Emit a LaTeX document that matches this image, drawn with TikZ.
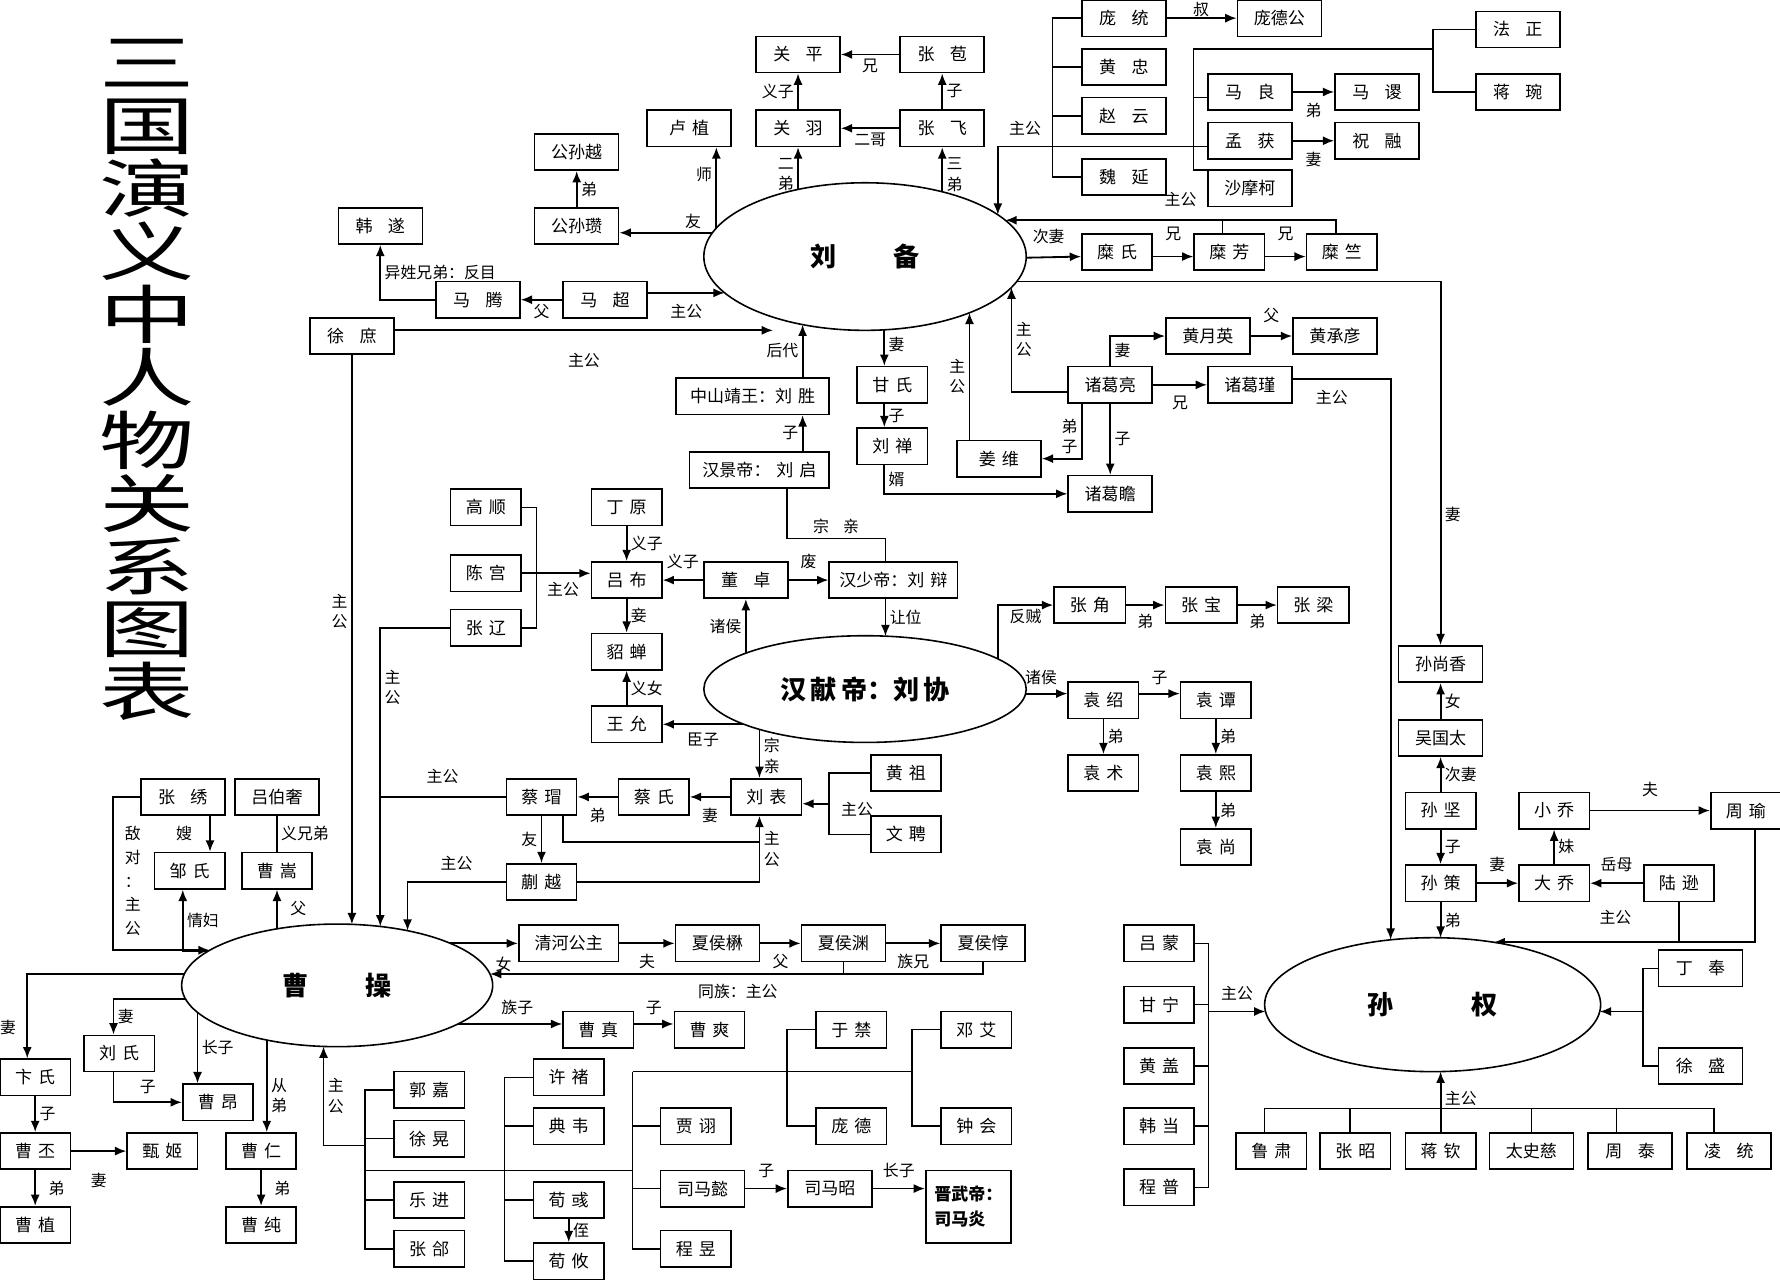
\documentclass[tikz,border=0pt]{standalone}
\usepackage{fontspec}
\setmainfont{Noto Sans CJK SC}
\usetikzlibrary{shapes.geometric,arrows.meta,calc}
\pgfdeclarelayer{bg}\pgfsetlayers{bg,main}
\newcommand\wsp{\hspace{0.9em}}
\newcommand\nsp{\hspace{0.35em}}
\begin{document}
\begin{tikzpicture}[x=0.5pt,y=-0.5pt,
 box/.style={draw,line width=0.7pt,minimum width=37pt,minimum height=16pt,inner sep=1pt,font=\fontsize{7.5}{8}\selectfont},
 w/.style={minimum width=#1*0.5pt},
 ell/.style={draw,ellipse,line width=0.7pt,fill=white,inner sep=0pt,font=\bfseries\fontsize{11.5}{12}\selectfont},
 a/.style={line width=0.8pt,-{Latex[length=5pt,width=4pt]}},
 l/.style={line width=0.7pt},
 lab/.style={font=\fontsize{7}{9}\selectfont,inner sep=1.5pt,align=center}]
\useasboundingbox (0,0) rectangle (1568,1130);
\node[align=center,inner sep=0pt] (title) at (130,335) {\scalebox{1.5}[1]{\parbox{28pt}{\centering\fontsize{28}{27.7}\selectfont 三\\国\\演\\义\\中\\人\\物\\关\\系\\图\\表}}};
% ellipses
\node[ell,minimum width=142pt,minimum height=65pt] (lb) at (762,226) {刘\hspace{2.2em}备};
\node[ell,minimum width=142pt,minimum height=47pt] (hx) at (762,607) {汉\,献\,帝：刘\,协};
\node[ell,minimum width=137pt,minimum height=54pt] (cc) at (297,868) {曹\hspace{2.2em}操};
\node[ell,minimum width=148pt,minimum height=59pt] (sq) at (1262,885) {孙\hspace{3em}权};
% boxes
\node[box] (guanping) at (703,48) {关\wsp{}平};
\node[box] (zhangbao) at (830,48) {张\wsp{}苞};
\node[box] (luzhi) at (607,113) {卢\nsp{}植};
\node[box] (guanyu) at (703,113) {关\wsp{}羽};
\node[box] (zhangfei) at (830,113) {张\wsp{}飞};
\node[box] (gsy) at (508,134) {公孙越};
\node[box] (gsz) at (508,199) {公孙瓒};
\node[box] (hansui) at (335,199) {韩\wsp{}遂};
\node[box] (mateng) at (421,264) {马\wsp{}腾};
\node[box] (machao) at (533,264) {马\wsp{}超};
\node[box] (xushu) at (310,296) {徐\wsp{}庶};
\node[box] (pangtong) at (990,16) {庞\wsp{}统};
\node[box] (pangdegong) at (1127,16) {庞德公};
\node[box] (huangzhong) at (990,59) {黄\wsp{}忠};
\node[box] (zhaoyun) at (990,102) {赵\wsp{}云};
\node[box] (weiyan) at (990,156) {魏\wsp{}延};
\node[box] (mal) at (1101,81) {马\wsp{}良};
\node[box] (masu) at (1213,81) {马\wsp{}谡};
\node[box] (menghuo) at (1101,124) {孟\wsp{}获};
\node[box] (zhurong) at (1213,124) {祝\wsp{}融};
\node[box] (shamoke) at (1101,166) {沙摩柯};
\node[box] (fazheng) at (1337,26) {法\wsp{}正};
\node[box] (jiangwan) at (1337,81) {蒋\wsp{}琬};
\node[box,w=62] (mishi) at (984,222) {糜\nsp{}氏};
\node[box,w=62] (mifang) at (1083,222) {糜\nsp{}芳};
\node[box,w=62] (mizhu) at (1182,222) {糜\nsp{}竺};
\node[box] (hyy) at (1064,296) {黄月英};
\node[box] (hcy) at (1176,296) {黄承彦};
\node[box] (zgl) at (978,339) {诸葛亮};
\node[box] (zgj) at (1101,339) {诸葛瑾};
\node[box] (jiangwei) at (880,404) {姜\nsp{}维};
\node[box] (zgzhan) at (978,435) {诸葛瞻};
\node[box,w=62] (ganshi) at (786,339) {甘\nsp{}氏};
\node[box,w=62] (liushan) at (786,393) {刘\nsp{}禅};
\node[box,w=135] (zsjw) at (663,349) {中山靖王：刘\nsp{}胜};
\node[box,w=123] (hanjing) at (669,414) {汉景帝：\nsp{}刘\nsp{}启};
\node[box,w=62] (gaoshun) at (428,447) {高\nsp{}顺};
\node[box,w=62] (dingyuan) at (552,447) {丁\nsp{}原};
\node[box,w=62] (chengong) at (428,505) {陈\nsp{}宫};
\node[box,w=62] (lvbu) at (552,511) {吕\nsp{}布};
\node[box] (dongzhuo) at (657,511) {董\wsp{}卓};
\node[box,w=113] (hanshao) at (787,511) {汉少帝：刘\nsp{}辩};
\node[box,w=62] (zhangliao) at (428,553) {张\nsp{}辽};
\node[box,w=62] (diaochan) at (552,574) {貂\nsp{}蝉};
\node[box,w=62] (wangyun) at (552,638) {王\nsp{}允};
\node[box,w=63] (zhangjiao) at (960,533) {张\nsp{}角};
\node[box,w=63] (zhangbao2) at (1058,533) {张\nsp{}宝};
\node[box,w=63] (zhangliang) at (1157,533) {张\nsp{}梁};
\node[box,w=62] (yuanshao) at (972,617) {袁\nsp{}绍};
\node[box,w=62] (yuantan) at (1071,617) {袁\nsp{}谭};
\node[box,w=62] (yuanshu) at (972,681) {袁\nsp{}术};
\node[box,w=62] (yuanxi) at (1071,681) {袁\nsp{}熙};
\node[box,w=62] (yuanshang) at (1071,746) {袁\nsp{}尚};
\node[box,w=62] (huangzu) at (798,681) {黄\nsp{}祖};
\node[box,w=62] (wenpin) at (798,735) {文\nsp{}聘};
\node[box,w=62] (liubiao) at (675,702) {刘\nsp{}表};
\node[box,w=62] (caishi) at (576,702) {蔡\nsp{}氏};
\node[box,w=62] (caimao) at (477,702) {蔡\nsp{}瑁};
\node[box,w=62] (kuaiyue) at (477,777) {蒯\nsp{}越};
\node[box] (zhangxiu) at (161,702) {张\wsp{}绣};
\node[box] (lvboshe) at (244,702) {吕伯奢};
\node[box,w=62] (zoushi) at (167,767) {邹\nsp{}氏};
\node[box,w=62] (caosong) at (244,767) {曹\nsp{}嵩};
\node[box,w=88] (qinghe) at (501,831) {清河公主};
\node[box] (xhmao) at (632,831) {夏侯楙};
\node[box] (xhyuan) at (743,831) {夏侯渊};
\node[box] (xhdun) at (866,831) {夏侯惇};
\node[box,w=62] (caozhen) at (527,907) {曹\nsp{}真};
\node[box,w=62] (caoshuang) at (625,907) {曹\nsp{}爽};
\node[box,w=62] (bianshi) at (31,949) {卞\nsp{}氏};
\node[box,w=62] (liushi) at (105,928) {刘\nsp{}氏};
\node[box,w=62] (caoang) at (192,971) {曹\nsp{}昂};
\node[box,w=62] (caopi) at (31,1014) {曹\nsp{}丕};
\node[box,w=62] (zhenji) at (143,1014) {甄\nsp{}姬};
\node[box,w=62] (caoren) at (230,1014) {曹\nsp{}仁};
\node[box,w=62] (caozhi) at (31,1079) {曹\nsp{}植};
\node[box,w=62] (caochun) at (230,1079) {曹\nsp{}纯};
\node[box,w=62] (guojia) at (378,960) {郭\nsp{}嘉};
\node[box,w=62] (xuhuang) at (378,1003) {徐\nsp{}晃};
\node[box,w=62] (yuejin) at (378,1057) {乐\nsp{}进};
\node[box,w=62] (zhanghe) at (378,1100) {张\nsp{}郃};
\node[box,w=62] (xuchu) at (501,949) {许\nsp{}褚};
\node[box,w=62] (dianwei) at (501,992) {典\nsp{}韦};
\node[box,w=62] (xunyu) at (501,1057) {荀\nsp{}彧};
\node[box,w=62] (xunyou) at (501,1111) {荀\nsp{}攸};
\node[box,w=62] (jiaxu) at (613,992) {贾\nsp{}诩};
\node[box] (simayi) at (619,1047) {司马懿};
\node[box,w=62] (chengyu) at (613,1100) {程\nsp{}昱};
\node[box] (simazhao) at (731,1047) {司马昭};
\node[box,w=75,minimum height=32pt,align=left,font=\bfseries\fontsize{7.5}{11}\selectfont] (jinwu) at (853,1063) {晋武帝：\\司马炎};
\node[box,w=62] (yujin) at (750,907) {于\nsp{}禁};
\node[box,w=62] (pangde) at (750,992) {庞\nsp{}德};
\node[box,w=62] (dengai) at (860,907) {邓\nsp{}艾};
\node[box,w=62] (zhonghui) at (860,992) {钟\nsp{}会};
\node[box] (sunshx) at (1269,585) {孙尚香};
\node[box] (wuguotai) at (1269,650) {吴国太};
\node[box,w=62] (sunjian) at (1269,714) {孙\nsp{}坚};
\node[box,w=62] (sunce) at (1269,778) {孙\nsp{}策};
\node[box,w=62] (xiaoqiao) at (1369,714) {小\nsp{}乔};
\node[box,w=62] (daqiao) at (1369,778) {大\nsp{}乔};
\node[box,w=62] (zhouyu) at (1538,714) {周\nsp{}瑜};
\node[box,w=62] (luxun) at (1479,778) {陆\nsp{}逊};
\node[box] (dingfeng) at (1498,853) {丁\wsp{}奉};
\node[box] (xusheng) at (1498,939) {徐\wsp{}盛};
\node[box,w=62] (lvmeng) at (1021,831) {吕\nsp{}蒙};
\node[box,w=62] (ganning) at (1021,885) {甘\nsp{}宁};
\node[box,w=62] (huanggai) at (1021,939) {黄\nsp{}盖};
\node[box,w=62] (handang) at (1021,992) {韩\nsp{}当};
\node[box,w=62] (chengpu) at (1021,1046) {程\nsp{}普};
\node[box,w=62] (lusu) at (1120,1014) {鲁\nsp{}肃};
\node[box,w=62] (zhangzhao) at (1194,1014) {张\nsp{}昭};
\node[box,w=62] (jiangqin) at (1269,1014) {蒋\nsp{}钦};
\node[box] (taishici) at (1349,1014) {太史慈};
\node[box] (zhoutai) at (1436,1014) {周\wsp{}泰};
\node[box] (lingtong) at (1523,1014) {凌\wsp{}统};
% free labels
\node[lab] (l1) at (755,713) {主公};
\node[lab,font=\fontsize{7}{10.5}\selectfont] (l2) at (117,776) {敌\\对\\：\\主\\公};
\node[lab] (l3) at (650,873) {同族：主公};
\node[lab] (l4) at (7,905) {妻};
\node[lab] (l5) at (903,113) {主公};
\node[lab] (l6) at (1040,176) {主公};
\node[lab] (l7) at (1423,808) {主公};
\node[lab] (l8) at (1058,8) {叔};
\begin{pgfonlayer}{bg}
% Liu Bei
\draw[a] (guanyu) -- node[lab,left]{义子} (guanping);
\draw[a] (zhangfei) -- node[lab,right]{子} (zhangbao);
\draw[a] (zhangbao) -- node[lab,below]{兄} (guanping);
\draw[a] (zhangfei) -- node[lab,below]{二哥} (guanyu);
\draw[a] (guanyu |- lb) -- node[lab,left,pos=.75]{二\\弟} (guanyu);
\draw[a] (zhangfei |- lb) -- node[lab,right,pos=.75]{三\\弟} (zhangfei);
\coordinate (luz) at ([xshift=12pt]luzhi.south);
\draw[a] (luz |- lb) -- node[lab,left,pos=.75]{师} (luz);
\draw[a] ($(lb)+(0,-21)$) -- node[lab,above,pos=.7]{友} ($(gsz.east)+(0,6)$);
\draw[a] (gsz) -- node[lab,right]{弟} (gsy);
\draw[a] (machao) -- node[lab,below]{父} (mateng);
\draw[a] (mateng.west) -| node[lab,right,pos=.75]{异姓兄弟：反目} (hansui);
\draw[a] ($(machao.east)+(0,-6)$) -- node[lab,below=3pt]{主公} ($(lb)+({-142*sqrt(1-(32/65)^2)},32)$);
\draw[a] ($(xushu.east)+(0,-5)$) -- node[lab,below=8pt]{主公} ($(lb)+(-81,65)$);
\draw[a] (xushu) -- node[lab,left,pos=.45]{主\\公} ($(cc)+(13,{-54*sqrt(1-(13/137)^2)})$);
\draw[a] ($(lb)+(17,0)$) -- node[lab,right,pos=.8]{妻} ($(ganshi.north)+(-7,0)$);
\draw[a] ($(ganshi.south)+(-7,0)$) -- node[lab,right]{子} ($(liushan.north)+(-7,0)$);
\draw[a] ($(liushan.south)+(-7,0)$) |- node[lab,right,pos=.25]{婿} (zgzhan.west);
\draw[a] ($(hanjing.north)+(38,0)$) -- node[lab,left]{子} ($(zsjw.south)+(44,0)$);
\draw[a] ($(zsjw.north)+(44,0)$) -- node[lab,left]{后代} ($(lb)+(-55,{65*sqrt(1-(55/142)^2)})$);
\draw[l] ($(hanjing.south)+(24,0)$) |- node[lab,above,pos=.75]{宗\wsp{}亲} ($(hanshao.north)+(-7,-20)$) -- ($(hanshao.north)+(-7,0)$);
\draw[a] (dingyuan) -- node[lab,right]{义子} (lvbu);
\draw[a] (dongzhuo) -- node[lab,above=3pt]{义子} (lvbu);
\draw[a] (dongzhuo) -- node[lab,above=3pt]{废} (hanshao);
\draw[l] (gaoshun.east) -- ++(13,0) |- (zhangliao.east);
\draw[a] (chengong.east) -- node[lab,below=2pt,pos=.6]{主公} (chengong.east -| lvbu.west);
\draw[a] (lvbu) -- node[lab,right]{妾} (diaochan);
\draw[a] (wangyun) -- node[lab,right]{义女} (diaochan);
\draw[a] (hx.center |- wangyun) -- node[lab,below=2pt,pos=.8]{臣子} (wangyun.east);
\draw[a] (dongzhuo |- hx) -- node[lab,left,pos=.7]{诸侯} (dongzhuo);
\draw[a] ($(hanshao.south)+(-7,0)$) -- node[lab,right]{让位} ($(hx)+(18,{-47*sqrt(1-(18/142)^2)})$);
\draw[a] ($(hx)+(117,0)$) |- node[lab,below,pos=.75]{反贼} (zhangjiao.west);
\draw[a] (zhangjiao) -- node[lab,below=2pt]{弟} (zhangbao2);
\draw[a] (zhangbao2) -- node[lab,below=2pt]{弟} (zhangliang);
\draw[a] ($(hx)+(0,4)$) -- node[lab,above=2pt,pos=.87]{诸侯} ($(yuanshao.west)+(0,-6)$);
\draw[a] ($(yuanshao.east)+(0,-6)$) -- node[lab,above=2pt]{子} ($(yuantan.west)+(0,-6)$);
\draw[a] (yuanshao) -- node[lab,right]{弟} (yuanshu);
\draw[a] (yuantan) -- node[lab,right]{弟} (yuanxi);
\draw[a] (yuanxi) -- node[lab,right]{弟} (yuanshang);
\draw[a] ($(hx)+(-93,0)$) -- node[lab,right,pos=.75]{宗\\亲} ($(liubiao.north)+(-6,0)$);
\draw[l] (huangzu.west) -- ++(-36,0) |- (wenpin.west);
\draw[a] ($(huangzu.west)+(-36,27)$) -- ($(liubiao.east)+(0,6)$);
\draw[a] (liubiao) -- node[lab,below=3pt]{妻} (caishi);
\draw[a] (caishi) -- node[lab,below=3pt]{弟} (caimao);
\draw[l] (caimao.west) -- node[lab,above=4pt]{主公} ($(caimao.west)+(-111,0)$);
\draw[a] (zhangliao.west) -| node[lab,right,pos=.6]{主\\公} ($(cc)+(38,{-54*sqrt(1-(38/137)^2)})$);
\draw[a] (caimao) -- node[lab,left]{友} (kuaiyue);
\draw[l] ($(caimao.south)+(19,0)$) |- ($(liubiao.south)+(-6,23)$);
\draw[a] (kuaiyue.east) -| node[lab,right,pos=.75]{主\\公} ($(liubiao.south)+(-6,0)$);
\draw[a] (kuaiyue.west) -| node[lab,above=3pt,pos=.25]{主公} ($(cc)+(62,{-54*sqrt(1-(62/137)^2)})$);
% Cao Cao
\draw[a] ($(zhangxiu.south)+(24,0)$) -- node[lab,left=6pt]{嫂} ($(zoushi.north)+(18,0)$);
\draw[a] (zhangxiu.west) -- ++(-24,0) |- ($(cc)+({-137*sqrt(1-(31/54)^2)},-31)$);
\draw[l] (lvboshe) -- node[lab,right]{义兄弟} (caosong);
\draw[a] ($(cc)+(-87,-30)$) -| node[lab,right,pos=.75]{情妇} ($(zoushi.south)+(-6,0)$);
\draw[a] (caosong |- cc) -- node[lab,right=4pt,pos=.8]{父} (caosong);
\draw[a] (cc.center |- qinghe) -- node[lab,below=4pt,pos=.92]{女} (qinghe);
\draw[a] (qinghe) -- node[lab,below=3pt]{夫} (xhmao);
\draw[a] (xhmao) -- node[lab,below=3pt]{父} (xhyuan);
\draw[a] (xhyuan) -- node[lab,below=3pt]{族兄} (xhdun);
\draw[a] (xhdun.south) |- ($(cc)+({137*sqrt(1-(10/54)^2)},-10)$);
\draw[l] (xhyuan.south) -- ++(0,11);
\draw[a] ($(cc)+(0,34)$) -- node[lab,above=2pt,pos=.8]{族子} ($(caozhen.west)+(0,-5)$);
\draw[a] ($(caozhen.east)+(0,-5)$) -- node[lab,above=2pt]{子} ($(caoshuang.west)+(0,-5)$);
\draw[a] ($(cc)+(0,-10)$) -| ($(bianshi.north)+(-7,0)$);
\draw[a] ($(cc)+(0,12)$) -| node[lab,right,pos=.75]{妻} ($(liushi.north)+(-5,0)$);
\draw[a] ($(liushi.south)+(-5,0)$) |- node[lab,above=2pt,pos=.75]{子} (caoang.west);
\draw[a] ($(caoang.north)+(-18,-64)$) -- node[lab,right,pos=.5]{长子} ($(caoang.north)+(-18,0)$);
\draw[a] ($(cc)+(-62,0)$) -- node[lab,right,pos=.75]{从\\弟} ($(caoren.north)+(5,0)$);
\draw[a] (bianshi) -- node[lab,right]{子} (caopi);
\draw[a] (caopi) -- node[lab,below=8pt]{妻} (zhenji);
\draw[a] (caopi) -- node[lab,right=4pt]{弟} (caozhi);
\draw[a] (caoren) -- node[lab,right=4pt]{弟} (caochun);
\draw[l] (guojia.west) -- ++(-25,0) |- (zhanghe.west);
\draw[l] (xuhuang.west) -- ++(-25,0);
\draw[l] (yuejin.west) -- ++(-25,0);
\draw[a] ($(guojia.west)+(-25,49)$) -| node[lab,right,pos=.75]{主\\公} ($(cc)+(-12,{54*sqrt(1-(12/137)^2)})$);
\draw[l] ($(guojia.west)+(-25,71)$) -- ($(jiaxu.west)+(-24,39)$);
\draw[l] (xuchu.west) -- ++(-25,0) |- (xunyou.west);
\draw[l] (dianwei.west) -- ++(-25,0);
\draw[l] (xunyu.west) -- ++(-25,0);
\draw[l] ($(jiaxu.west)+(-24,-48)$) |- (chengyu.west);
\draw[l] (jiaxu.west) -- ++(-24,0);
\draw[l] (simayi.west) -- ++(-24,0);
\draw[l] ($(jiaxu.west)+(-24,-48)$) -- ($(dengai.west)+(-25,37)$);
\draw[l] (dengai.west) -- ++(-25,0) |- (zhonghui.west);
\draw[l] (yujin.west) -- ++(-25,0) |- (pangde.west);
\draw[a] (xunyu) -- node[lab,right]{侄} (xunyou);
\draw[a] (simayi) -- node[lab,above=3pt]{子} (simazhao);
\draw[a] (simazhao.east) -- node[lab,above=3pt]{长子} (simazhao.east -| jinwu.west);
% Shu officers
\draw[a] (pangtong) -- (pangdegong);
\draw[l] (pangtong.west) -- ++(-25,0) |- (weiyan.west);
\draw[l] (huangzhong.west) -- ++(-25,0);
\draw[l] (zhaoyun.west) -- ++(-25,0);
\draw[a] ($(menghuo.west)+(0,5)$) -| ($(lb)+(117,{-65*sqrt(1-(117/142)^2)})$);
\draw[l] ($(mal.west)+(-12,-38)$) -- ($(shamoke.west)+(-12,-16)$) -- ($(shamoke.west)+(0,-16)$);
\draw[l] ($(mal.west)+(-12,5)$) -- ($(mal.west)+(0,5)$);
\draw[l] ($(mal.west)+(-12,-38)$) -- ($(fazheng.west)+(-37,17)$);
\draw[l] (fazheng.west) -- ++(-37,0) |- (jiangwan.west);
\draw[a] (mal) -- node[lab,below=3pt]{弟} (masu);
\draw[a] (menghuo) -- node[lab,below=3pt]{妻} (zhurong);
\draw[a] ($(lb)+(0,4)$) -- node[lab,above=4pt,pos=.85]{次妻} ($(mishi.west)+(0,4)$);
\draw[a] ($(mishi.east)+(0,4)$) -- node[lab,above=5pt]{兄} ($(mifang.west)+(0,4)$);
\draw[a] ($(mifang.east)+(0,4)$) -- node[lab,above=5pt]{兄} ($(mizhu.west)+(0,4)$);
\draw[a] ($(mizhu.north)+(-5,0)$) |- ($(lb)+({142*sqrt(1-(32/65)^2)},-32)$);
\draw[l] ($(mifang.north)+(-6,0)$) -- ++(0,-12);
\draw[a] ($(lb)+(0,22)$) -| node[lab,right,pos=.82]{妻} (sunshx);
\draw[a] ($(zgl.west)+(0,6)$) -| node[lab,right,pos=.75]{主\\公} ($(lb)+(129,{65*sqrt(1-(129/142)^2)})$);
\draw[a] (zgl.north) |- node[lab,right,pos=.25]{妻} (hyy.west);
\draw[a] (hyy) -- node[lab,above=4pt]{父} (hcy);
\draw[a] (zgl) -- node[lab,below=3pt]{兄} (zgj);
\draw[a] ($(zgl.south)+(-25,0)$) |- node[lab,left,pos=.3]{弟\\子} (jiangwei.east);
\draw[a] (zgl) -- node[lab,right]{子} (zgzhan);
\draw[a] ($(jiangwei.north)+(-26,0)$) -- node[lab,left]{主\\公} ($(lb)+(92,{65*sqrt(1-(92/142)^2)})$);
\draw[a] ($(zgj.east)+(0,-5)$) -| node[lab,below=3pt,pos=.2]{主公} ($(sq)+(-37,{-59*sqrt(1-(37/148)^2)})$);
% Wu
\draw[a] (sunjian) -- node[lab,right]{次妻} (wuguotai);
\draw[a] (wuguotai) -- node[lab,right]{女} (sunshx);
\draw[a] (sunjian) -- node[lab,right]{子} (sunce);
\draw[a] (sunce) -- node[lab,right]{弟} ($(sq)+(7,{-59*sqrt(1-(7/148)^2)})$);
\draw[a] (sunce) -- node[lab,above=3pt]{妻} (daqiao);
\draw[a] (daqiao) -- node[lab,right]{妹} (xiaoqiao);
\draw[a] (xiaoqiao) -- node[lab,above=4pt]{夫} (zhouyu);
\draw[a] (luxun) -- node[lab,above=3pt]{岳母} (daqiao);
\draw[a] ($(zhouyu.south)+(8,0)$) |- ($(sq)+({148*sqrt(1-(55/59)^2)},-55)$);
\draw[l] (luxun.south) -- ++(0,36);
\draw[l] (dingfeng.west) -- ++(-13,0) |- (xusheng.west);
\draw[a] ($(dingfeng.west)+(-13,38)$) -- ($(sq)+({148*sqrt(1-(6/59)^2)},6)$);
\draw[l] (lvmeng.east) -- ++(12,0) |- (chengpu.east);
\draw[l] (ganning.east) -- ++(12,0);
\draw[l] (huanggai.east) -- ++(12,0);
\draw[l] (handang.east) -- ++(12,0);
\draw[a] ($(lvmeng.east)+(12,60)$) -- node[lab,above=3pt]{主公} ($(sq)+({-148*sqrt(1-(6/59)^2)},6)$);
\draw[l] ($(lusu.north)+(-6,-21)$) -- ($(lingtong.north)+(-13,-21)$);
\draw[l] ($(lusu.north)+(-6,-21)$) -- ($(lusu.north)+(-6,0)$);
\draw[l] ($(zhangzhao.north)+(-5,-21)$) -- ($(zhangzhao.north)+(-5,0)$);
\draw[l] ($(taishici.north)+(0,-21)$) -- (taishici.north);
\draw[l] ($(zhoutai.north)+(-12,-21)$) -- ($(zhoutai.north)+(-12,0)$);
\draw[l] ($(lingtong.north)+(-13,-21)$) -- ($(lingtong.north)+(-13,0)$);
\draw[a] (jiangqin.north) -- node[lab,right,pos=.55]{主公} ($(sq)+(7,{59*sqrt(1-(7/148)^2)})$);
\end{pgfonlayer}
\end{tikzpicture}
\end{document}
